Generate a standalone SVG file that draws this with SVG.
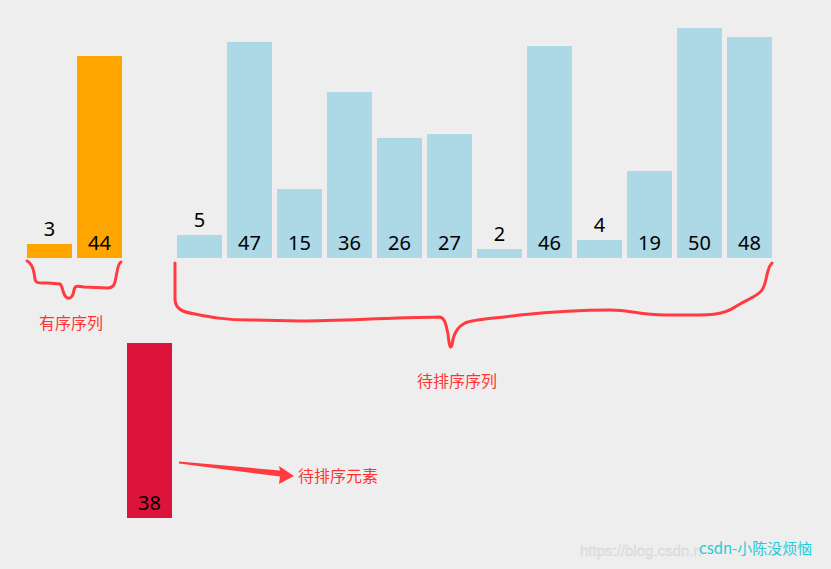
<svg xmlns="http://www.w3.org/2000/svg" width="831" height="569" viewBox="0 0 831 569">
<style>
.num{font-family:"Noto Sans","Open Sans",sans-serif;font-size:20px;fill:#000;text-anchor:middle}
.lbl{font-family:"Noto Sans CJK SC",sans-serif;font-size:16px;fill:#f33}
.sorted{fill:#ffa500}
.unsorted{fill:#add8e6}
.current{fill:#dc143c}
.brace{fill:none;stroke:#ff3b3f;stroke-width:3;stroke-linecap:round;stroke-linejoin:round}
</style>
<rect width="831" height="569" fill="#eeeeee"/>
<g id="b0"><rect class="sorted" x="27" y="244" width="45" height="14"/><text class="num" x="49.5" y="236">3</text></g>
<g id="b1"><rect class="sorted" x="77" y="56" width="45" height="202"/><text class="num" x="99.5" y="250">44</text></g>
<g id="b2"><rect class="current" x="127" y="343" width="45" height="175"/><text class="num" x="149.5" y="510">38</text></g>
<g id="b3"><rect class="unsorted" x="177" y="235" width="45" height="23"/><text class="num" x="199.5" y="227">5</text></g>
<g id="b4"><rect class="unsorted" x="227" y="42" width="45" height="216"/><text class="num" x="249.5" y="250">47</text></g>
<g id="b5"><rect class="unsorted" x="277" y="189" width="45" height="69"/><text class="num" x="299.5" y="250">15</text></g>
<g id="b6"><rect class="unsorted" x="327" y="92" width="45" height="166"/><text class="num" x="349.5" y="250">36</text></g>
<g id="b7"><rect class="unsorted" x="377" y="138" width="45" height="120"/><text class="num" x="399.5" y="250">26</text></g>
<g id="b8"><rect class="unsorted" x="427" y="134" width="45" height="124"/><text class="num" x="449.5" y="250">27</text></g>
<g id="b9"><rect class="unsorted" x="477" y="249" width="45" height="9"/><text class="num" x="499.5" y="241">2</text></g>
<g id="b10"><rect class="unsorted" x="527" y="46" width="45" height="212"/><text class="num" x="549.5" y="250">46</text></g>
<g id="b11"><rect class="unsorted" x="577" y="240" width="45" height="18"/><text class="num" x="599.5" y="232">4</text></g>
<g id="b12"><rect class="unsorted" x="627" y="171" width="45" height="87"/><text class="num" x="649.5" y="250">19</text></g>
<g id="b13"><rect class="unsorted" x="677" y="28" width="45" height="230"/><text class="num" x="699.5" y="250">50</text></g>
<g id="b14"><rect class="unsorted" x="727" y="37" width="45" height="221"/><text class="num" x="749.5" y="250">48</text></g>
<g id="connectors">
<path class="brace" d="M27,261 C33,264 34,272 35,279 C36,284 40,283 48,283 L60,284 C63,286 62,293 66,297 C70,300 73,297 74,290 C75,285 78,286 84,287 L108,288 C116,288 115,280 117,272 C118,266 119,263 121,262"/>
<path class="brace" d="M175,263 L175,300 C176,309 182,312 195,314 C210,317 225,320 250,320 L300,321 C340,321 380,318 440,317 C445,318 446,325 448,334 C449,343 450,351 452,345 C453,336 457,327 465,323 C475,319 490,319 520,315 C550,312 580,310 610,310 C630,310 640,315 665,315 L700,315 C725,315 732,309 740,304 C750,298 758,296 762,290 C766,284 766,277 768,271 C769,267 770,265 772,263"/>
<polygon fill="#ff3b3f" points="179,461.5 280,470.5 279,466 294,476 279,484 280,476.5 179,463.5"/>
</g>
<text class="lbl" x="39" y="329">有序序列</text>
<text class="lbl" x="417" y="387">待排序序列</text>
<text class="lbl" x="298" y="482">待排序元素</text>
<text x="580" y="556" font-family="Liberation Sans,sans-serif" font-size="15" fill="#e4e4e4" stroke="#d0d0d0" stroke-width="0.3">https://blog.csdn.n</text>
<text x="699" y="554" font-family="Noto Sans CJK SC,sans-serif" font-size="15" fill="#1ecbd6">csdn-小陈没烦恼</text>
</svg>
